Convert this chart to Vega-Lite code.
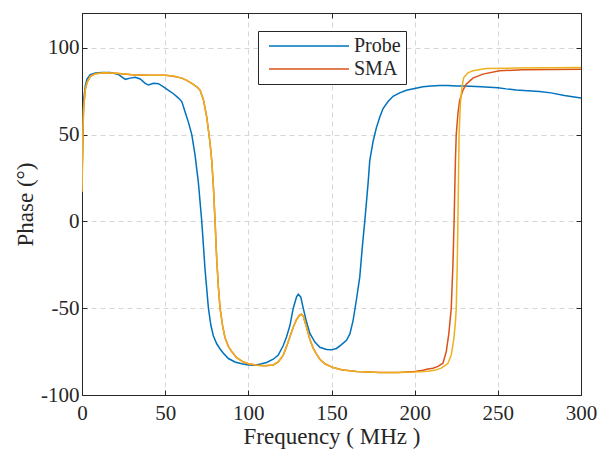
{
  "$schema": "https://vega.github.io/schema/vega-lite/v6.json",
  "width": 499,
  "height": 382,
  "autosize": "none",
  "padding": {"left": 82, "top": 13, "right": 17, "bottom": 58},
  "background": "white",
  "config": {
    "view": {"stroke": "#262626", "strokeWidth": 1},
    "font": "Liberation Serif",
    "axis": {"labelFont": "Liberation Serif", "titleFont": "Liberation Serif", "labelColor": "#262626", "titleColor": "#262626", "domainColor": "#262626", "tickColor": "#262626", "titleFontWeight": "normal"}
  },
  "datasets": {
    "main": [
      {"series": "Probe", "f": 0, "v": 20}, {"series": "Probe", "f": 0.5, "v": 55}, {"series": "Probe", "f": 1, "v": 70}, {"series": "Probe", "f": 2, "v": 78}, {"series": "Probe", "f": 3, "v": 82}, {"series": "Probe", "f": 5, "v": 84.5}, {"series": "Probe", "f": 8, "v": 85.5}, {"series": "Probe", "f": 12, "v": 85.8}, {"series": "Probe", "f": 17, "v": 85.7}, {"series": "Probe", "f": 22, "v": 84.5}, {"series": "Probe", "f": 26, "v": 81.8}, {"series": "Probe", "f": 29, "v": 82.5}, {"series": "Probe", "f": 32, "v": 83}, {"series": "Probe", "f": 35, "v": 82}, {"series": "Probe", "f": 38, "v": 79.5}, {"series": "Probe", "f": 40, "v": 78.5}, {"series": "Probe", "f": 43, "v": 79.5}, {"series": "Probe", "f": 46, "v": 79.3}, {"series": "Probe", "f": 49, "v": 77.5}, {"series": "Probe", "f": 52, "v": 75.5}, {"series": "Probe", "f": 55, "v": 73.5}, {"series": "Probe", "f": 58, "v": 71}, {"series": "Probe", "f": 60, "v": 69}, {"series": "Probe", "f": 62, "v": 63}, {"series": "Probe", "f": 64, "v": 57}, {"series": "Probe", "f": 66, "v": 50}, {"series": "Probe", "f": 68, "v": 38}, {"series": "Probe", "f": 70, "v": 22}, {"series": "Probe", "f": 72, "v": 0}, {"series": "Probe", "f": 74, "v": -28}, {"series": "Probe", "f": 76, "v": -50}, {"series": "Probe", "f": 77.5, "v": -60}, {"series": "Probe", "f": 79, "v": -66}, {"series": "Probe", "f": 81, "v": -70.5}, {"series": "Probe", "f": 83, "v": -73.5}, {"series": "Probe", "f": 85, "v": -76}, {"series": "Probe", "f": 88, "v": -79}, {"series": "Probe", "f": 92, "v": -81}, {"series": "Probe", "f": 96, "v": -82}, {"series": "Probe", "f": 100, "v": -82.7}, {"series": "Probe", "f": 104, "v": -82.8}, {"series": "Probe", "f": 108, "v": -82}, {"series": "Probe", "f": 111, "v": -81.3}, {"series": "Probe", "f": 115, "v": -79.4}, {"series": "Probe", "f": 118, "v": -77}, {"series": "Probe", "f": 121, "v": -71.5}, {"series": "Probe", "f": 123, "v": -66.4}, {"series": "Probe", "f": 125, "v": -60}, {"series": "Probe", "f": 127, "v": -50}, {"series": "Probe", "f": 129, "v": -43.5}, {"series": "Probe", "f": 130, "v": -42}, {"series": "Probe", "f": 131.5, "v": -43.5}, {"series": "Probe", "f": 133, "v": -50}, {"series": "Probe", "f": 135, "v": -58}, {"series": "Probe", "f": 137, "v": -64.5}, {"series": "Probe", "f": 140, "v": -69.5}, {"series": "Probe", "f": 143, "v": -72.5}, {"series": "Probe", "f": 147, "v": -73.8}, {"series": "Probe", "f": 150, "v": -74}, {"series": "Probe", "f": 153, "v": -73.2}, {"series": "Probe", "f": 156, "v": -71}, {"series": "Probe", "f": 159, "v": -68.5}, {"series": "Probe", "f": 161, "v": -65}, {"series": "Probe", "f": 163, "v": -57}, {"series": "Probe", "f": 165, "v": -45}, {"series": "Probe", "f": 167, "v": -32}, {"series": "Probe", "f": 168.5, "v": -15}, {"series": "Probe", "f": 170, "v": 0}, {"series": "Probe", "f": 172, "v": 22}, {"series": "Probe", "f": 173, "v": 35}, {"series": "Probe", "f": 175, "v": 46}, {"series": "Probe", "f": 177, "v": 54}, {"series": "Probe", "f": 179, "v": 60}, {"series": "Probe", "f": 181, "v": 65}, {"series": "Probe", "f": 184, "v": 69}, {"series": "Probe", "f": 187, "v": 72}, {"series": "Probe", "f": 191, "v": 74}, {"series": "Probe", "f": 195, "v": 75.5}, {"series": "Probe", "f": 200, "v": 76.5}, {"series": "Probe", "f": 205, "v": 77.5}, {"series": "Probe", "f": 210, "v": 78}, {"series": "Probe", "f": 215, "v": 78.3}, {"series": "Probe", "f": 220, "v": 78.3}, {"series": "Probe", "f": 225, "v": 78}, {"series": "Probe", "f": 230, "v": 78}, {"series": "Probe", "f": 240, "v": 77.5}, {"series": "Probe", "f": 250, "v": 77}, {"series": "Probe", "f": 255, "v": 76.3}, {"series": "Probe", "f": 261, "v": 75.6}, {"series": "Probe", "f": 268, "v": 75.2}, {"series": "Probe", "f": 275, "v": 74.8}, {"series": "Probe", "f": 282, "v": 74}, {"series": "Probe", "f": 290, "v": 72.5}, {"series": "Probe", "f": 300, "v": 71},

      {"series": "SMA", "f": 0, "v": 17}, {"series": "SMA", "f": 0.5, "v": 50}, {"series": "SMA", "f": 1, "v": 66}, {"series": "SMA", "f": 2, "v": 76}, {"series": "SMA", "f": 3, "v": 80}, {"series": "SMA", "f": 5, "v": 83.5}, {"series": "SMA", "f": 8, "v": 85}, {"series": "SMA", "f": 13, "v": 85.6}, {"series": "SMA", "f": 18, "v": 85.5}, {"series": "SMA", "f": 25, "v": 84.9}, {"series": "SMA", "f": 30, "v": 84.4}, {"series": "SMA", "f": 40, "v": 84.1}, {"series": "SMA", "f": 50, "v": 84.1}, {"series": "SMA", "f": 55, "v": 83.6}, {"series": "SMA", "f": 60, "v": 82.5}, {"series": "SMA", "f": 63, "v": 81.2}, {"series": "SMA", "f": 66, "v": 79.5}, {"series": "SMA", "f": 69, "v": 77.5}, {"series": "SMA", "f": 71, "v": 75.5}, {"series": "SMA", "f": 73, "v": 70}, {"series": "SMA", "f": 75, "v": 60}, {"series": "SMA", "f": 77, "v": 45}, {"series": "SMA", "f": 78, "v": 35}, {"series": "SMA", "f": 79, "v": 20}, {"series": "SMA", "f": 80, "v": 0}, {"series": "SMA", "f": 81, "v": -22}, {"series": "SMA", "f": 82, "v": -38}, {"series": "SMA", "f": 83, "v": -50}, {"series": "SMA", "f": 84.5, "v": -60}, {"series": "SMA", "f": 86, "v": -67}, {"series": "SMA", "f": 88, "v": -72}, {"series": "SMA", "f": 90, "v": -75}, {"series": "SMA", "f": 93, "v": -78.5}, {"series": "SMA", "f": 97, "v": -81}, {"series": "SMA", "f": 100, "v": -82}, {"series": "SMA", "f": 105, "v": -82.8}, {"series": "SMA", "f": 110, "v": -83.2}, {"series": "SMA", "f": 115, "v": -82.7}, {"series": "SMA", "f": 118, "v": -81}, {"series": "SMA", "f": 121, "v": -77}, {"series": "SMA", "f": 123, "v": -72}, {"series": "SMA", "f": 125, "v": -66.4}, {"series": "SMA", "f": 127, "v": -61}, {"series": "SMA", "f": 129, "v": -56.5}, {"series": "SMA", "f": 131, "v": -53.8}, {"series": "SMA", "f": 132, "v": -53.6}, {"series": "SMA", "f": 133, "v": -54.5}, {"series": "SMA", "f": 135, "v": -61}, {"series": "SMA", "f": 137, "v": -68}, {"series": "SMA", "f": 139, "v": -73}, {"series": "SMA", "f": 141, "v": -76.5}, {"series": "SMA", "f": 143, "v": -79.4}, {"series": "SMA", "f": 146, "v": -82}, {"series": "SMA", "f": 151, "v": -84.2}, {"series": "SMA", "f": 156, "v": -85.5}, {"series": "SMA", "f": 165, "v": -86.5}, {"series": "SMA", "f": 179, "v": -87}, {"series": "SMA", "f": 190, "v": -87}, {"series": "SMA", "f": 200, "v": -86.5}, {"series": "SMA", "f": 205, "v": -85.8}, {"series": "SMA", "f": 208, "v": -85}, {"series": "SMA", "f": 211, "v": -84.6}, {"series": "SMA", "f": 214, "v": -83.5}, {"series": "SMA", "f": 217, "v": -81.7}, {"series": "SMA", "f": 219, "v": -75}, {"series": "SMA", "f": 220.5, "v": -65}, {"series": "SMA", "f": 222, "v": -50}, {"series": "SMA", "f": 223, "v": -25}, {"series": "SMA", "f": 223.7, "v": 0}, {"series": "SMA", "f": 224.5, "v": 35}, {"series": "SMA", "f": 225, "v": 50}, {"series": "SMA", "f": 226, "v": 62}, {"series": "SMA", "f": 227, "v": 69.5}, {"series": "SMA", "f": 229, "v": 75.5}, {"series": "SMA", "f": 231, "v": 79}, {"series": "SMA", "f": 235, "v": 82.5}, {"series": "SMA", "f": 241, "v": 84.8}, {"series": "SMA", "f": 251, "v": 86.7}, {"series": "SMA", "f": 265, "v": 87.3}, {"series": "SMA", "f": 300, "v": 87.6}
    ],
    "ref": [
      {"f": 0, "v": 17}, {"f": 0.5, "v": 50}, {"f": 1, "v": 66}, {"f": 2, "v": 76}, {"f": 3, "v": 80}, {"f": 5, "v": 83.5}, {"f": 8, "v": 85}, {"f": 13, "v": 85.6}, {"f": 18, "v": 85.5}, {"f": 25, "v": 85}, {"f": 30, "v": 84.5}, {"f": 40, "v": 84.2}, {"f": 50, "v": 84.2}, {"f": 55, "v": 83.7}, {"f": 60, "v": 82.5}, {"f": 63, "v": 81.2}, {"f": 66, "v": 79.5}, {"f": 69, "v": 77.5}, {"f": 71, "v": 75.5}, {"f": 73, "v": 70}, {"f": 75, "v": 60}, {"f": 77, "v": 45}, {"f": 78, "v": 35}, {"f": 79, "v": 20}, {"f": 80, "v": 0}, {"f": 81, "v": -22}, {"f": 82, "v": -38}, {"f": 83, "v": -50}, {"f": 84.5, "v": -60}, {"f": 86, "v": -67}, {"f": 88, "v": -72}, {"f": 90, "v": -75}, {"f": 93, "v": -78.5}, {"f": 97, "v": -81}, {"f": 100, "v": -82}, {"f": 105, "v": -82.8}, {"f": 110, "v": -83.2}, {"f": 115, "v": -82.7}, {"f": 118, "v": -81}, {"f": 121, "v": -77}, {"f": 123, "v": -72}, {"f": 125, "v": -66.4}, {"f": 127, "v": -61}, {"f": 129, "v": -56.5}, {"f": 131, "v": -53.8}, {"f": 132, "v": -53.6}, {"f": 133, "v": -54.5}, {"f": 135, "v": -61}, {"f": 137, "v": -68}, {"f": 139, "v": -73}, {"f": 141, "v": -76.5}, {"f": 143, "v": -79.4}, {"f": 146, "v": -82}, {"f": 151, "v": -84.2}, {"f": 156, "v": -85.5}, {"f": 165, "v": -86.5}, {"f": 179, "v": -87}, {"f": 190, "v": -87}, {"f": 200, "v": -86.8}, {"f": 208, "v": -86.3}, {"f": 212, "v": -85.8}, {"f": 216, "v": -84.5}, {"f": 219, "v": -82.5}, {"f": 220, "v": -81.7}, {"f": 222, "v": -77}, {"f": 223.5, "v": -68}, {"f": 224.5, "v": -58}, {"f": 225, "v": -50}, {"f": 225.6, "v": -25}, {"f": 226, "v": 0}, {"f": 226.7, "v": 50}, {"f": 227.5, "v": 68}, {"f": 228.5, "v": 78}, {"f": 229.5, "v": 82.8}, {"f": 232, "v": 85.5}, {"f": 235, "v": 86.7}, {"f": 243, "v": 88}, {"f": 260, "v": 88.3}, {"f": 300, "v": 88.6}
    ]
  },
  "layer": [
    {
      "data": {"name": "main"},
      "mark": {"type": "line", "strokeWidth": 1.5, "clip": true},
      "encoding": {
        "x": {"field": "f", "type": "quantitative", "scale": {"domain": [0, 300], "nice": false, "zero": false},
          "axis": {"orient": "bottom", "values": [0, 50, 100, 150, 200, 250, 300], "title": "Frequency ( MHz )", "titleFont": "Liberation Serif", "labelFont": "Liberation Serif", "titleFontSize": 23, "labelFontSize": 21, "tickSize": -5, "labelPadding": 12, "titlePadding": 2, "grid": true, "gridDash": [5, 4], "gridColor": "#d6d6d6", "labelFlush": false}},
        "y": {"field": "v", "type": "quantitative", "scale": {"domain": [-100, 120], "nice": false, "zero": false},
          "axis": {"orient": "left", "values": [-100, -50, 0, 50, 100], "title": "Phase (°)", "titleFont": "Liberation Serif", "labelFont": "Liberation Serif", "titleFontSize": 23, "labelFontSize": 21, "tickSize": -5, "labelPadding": 8, "titlePadding": 3, "grid": true, "gridDash": [5, 4], "gridColor": "#d6d6d6", "labelFlush": false,
            "labelExpr": "datum.value < 0 ? '-' + abs(datum.value) : '' + datum.value"}},
        "color": {"field": "series", "type": "nominal",
          "scale": {"domain": ["Probe", "SMA"], "range": ["#0072BD", "#D95319"]},
          "legend": {"title": null, "orient": "none", "legendX": 176, "legendY": 18, "symbolType": "M-0.5,0H9.5", "symbolSize": 256, "symbolStrokeWidth": 1.5, "labelFont": "Liberation Serif", "labelFontSize": 20, "labelColor": "#262626", "strokeColor": "#262626", "fillColor": "white", "padding": 5, "rowPadding": 3, "labelOffset": 71}}
      }
    },
    {
      "data": {"name": "ref"},
      "mark": {"type": "line", "strokeWidth": 1.5, "color": "#EDB120", "clip": true},
      "encoding": {
        "x": {"field": "f", "type": "quantitative", "axis": {"orient": "top", "values": [0, 50, 100, 150, 200, 250, 300], "labels": false, "title": null, "tickSize": -5, "grid": false}},
        "y": {"field": "v", "type": "quantitative", "axis": {"orient": "right", "values": [-100, -50, 0, 50, 100], "labels": false, "title": null, "tickSize": -5, "grid": false}}
      }
    }
  ],
  "resolve": {"axis": {"x": "independent", "y": "independent"}}
}
